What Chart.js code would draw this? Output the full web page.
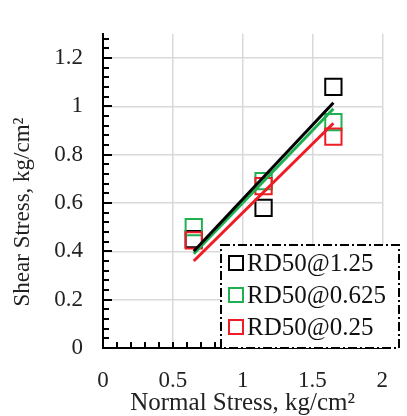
<!DOCTYPE html>
<html>
<head>
<meta charset="utf-8">
<script src="https://cdn.jsdelivr.net/npm/chart.js@4.4.1/dist/chart.umd.min.js"></script>
<style>
  html, body { margin: 0; padding: 0; background: #fff; }
  #wrap { width: 407px; height: 416px; }
</style>
</head>
<body>
<div id="wrap"><canvas id="grafico" width="407" height="416"></canvas></div>
<script>
const seriesNames = ['RD50@1.25', 'RD50@0.625', 'RD50@0.25'];
const seriesColors = ['#000000', '#1fb150', '#ee1c25'];

const normalStress = [0.65, 1.15, 1.65];
const shear125 = [0.45, 0.58, 1.08];
const shear0625 = [0.50, 0.69, 0.935];
const shear025 = [0.445, 0.67, 0.875];

const trendX = [0.65, 1.65];
const trend125 = [0.40, 1.015];
const trend0625 = [0.39, 0.99];
const trend025 = [0.36, 0.93];

const xTicks = [0, 0.5, 1, 1.5, 2];
const yTicks = [0, 0.2, 0.4, 0.6, 0.8, 1, 1.2];

const xTitle = 'Normal Stress, kg/cm²';
const yTitle = 'Shear Stress, kg/cm²';

const FONT = 'Liberation Serif';

function pares(xs, ys) {
    return xs.map((x, i) => ({ x: x, y: ys[i] }));
}

const pontos = [shear125, shear0625, shear025];
const tendencias = [trend125, trend0625, trend025];

const datasets = [];
pontos.forEach((ys, i) => {
    datasets.push({
        label: seriesNames[i],
        data: pares(normalStress, ys),
        showLine: false,
        pointStyle: 'rect',
        pointRadius: 11.5,
        pointHoverRadius: 11.5,
        pointBorderWidth: 2,
        pointBorderColor: seriesColors[i],
        pointBackgroundColor: 'rgba(0,0,0,0)',
        order: 10 - i
    });
});
tendencias.forEach((ys, i) => {
    datasets.push({
        label: seriesNames[i] + ' trend',
        data: pares(trendX, ys),
        showLine: true,
        borderColor: seriesColors[i],
        borderWidth: 3,
        pointRadius: 0,
        fill: false,
        order: i
    });
});

// minor ticks, y title and legend box drawn by hand
const extras = {
    id: 'extras',
    afterDraw(chart) {
        const ctx = chart.ctx;
        const xs = chart.scales.x;
        const ys = chart.scales.y;
        const area = chart.chartArea;
        ctx.save();
        ctx.strokeStyle = '#000';
        ctx.lineWidth = 2;
        // y minor ticks
        for (let k = 0; k <= 32; k++) {
            const py = Math.round(ys.getPixelForValue(k * 0.04));
            const len = (k % 5 === 0) ? 9 : 6;
            ctx.beginPath();
            ctx.moveTo(area.left, py);
            ctx.lineTo(area.left + len, py);
            ctx.stroke();
        }
        // x minor ticks
        for (let k = 0; k <= 20; k++) {
            const px = Math.round(xs.getPixelForValue(k * 0.1));
            ctx.beginPath();
            ctx.moveTo(px, area.bottom);
            ctx.lineTo(px, area.bottom - 6);
            ctx.stroke();
        }

        // titulo do eixo y
        ctx.save();
        ctx.translate(23, 212);
        ctx.rotate(-Math.PI / 2);
        ctx.font = '23px "' + FONT + '"';
        ctx.fillStyle = '#222';
        ctx.textAlign = 'center';
        ctx.textBaseline = 'middle';
        ctx.fillText(yTitle, 0, 0);
        ctx.restore();

        // legenda
        const lx = 221, ly = 245, lw = 178, lh = 103;
        ctx.fillStyle = '#fff';
        ctx.fillRect(lx, ly, lw, lh);
        ctx.strokeStyle = '#000';
        ctx.setLineDash([9, 3, 2, 3]);
        ctx.lineWidth = 2;
        ctx.strokeRect(lx, ly, lw, lh);
        ctx.setLineDash([]);
        ctx.font = '25px "' + FONT + '"';
        ctx.textBaseline = 'middle';
        seriesNames.forEach((nome, i) => {
            const cy = 263 + i * 32;
            ctx.strokeStyle = seriesColors[i];
            ctx.lineWidth = 2;
            ctx.strokeRect(229, cy - 7, 14, 14);
            ctx.fillStyle = '#111';
            ctx.fillText(nome, 247, cy + 1);
        });
        ctx.restore();
    }
};

new Chart(document.getElementById('grafico'), {
    type: 'scatter',
    data: { datasets: datasets },
    plugins: [extras],
    options: {
        responsive: false,
        animation: false,
        layout: { padding: { top: 10, right: 6, left: 0, bottom: 0 } },
        plugins: {
            legend: { display: false },
            tooltip: { enabled: false }
        },
        scales: {
            x: {
                type: 'linear',
                min: 0,
                max: 2,
                afterFit: s => { s.height = 68; },
                afterBuildTicks: s => { s.ticks = xTicks.map(v => ({ value: v })); },
                grid: { color: '#d9d9d9', lineWidth: 1.5, drawTicks: false },
                border: { color: '#000', width: 2 },
                ticks: {
                    padding: 19,
                    color: '#222',
                    font: { family: FONT, size: 23 },
                    callback: v => String(v)
                },
                title: {
                    display: true,
                    text: xTitle,
                    color: '#222',
                    font: { family: FONT, size: 25, lineHeight: 1 },
                    padding: { top: 0, bottom: 0 }
                }
            },
            y: {
                type: 'linear',
                min: 0,
                max: 1.3,
                afterFit: s => { s.width = 103; },
                afterBuildTicks: s => { s.ticks = yTicks.map(v => ({ value: v })); },
                grid: { color: '#d9d9d9', lineWidth: 1.5, drawTicks: false },
                border: { color: '#000', width: 2 },
                ticks: {
                    padding: 20,
                    color: '#222',
                    font: { family: FONT, size: 23 },
                    callback: v => String(v)
                },
                title: { display: false }
            }
        }
    }
});
</script>
</body>
</html>
